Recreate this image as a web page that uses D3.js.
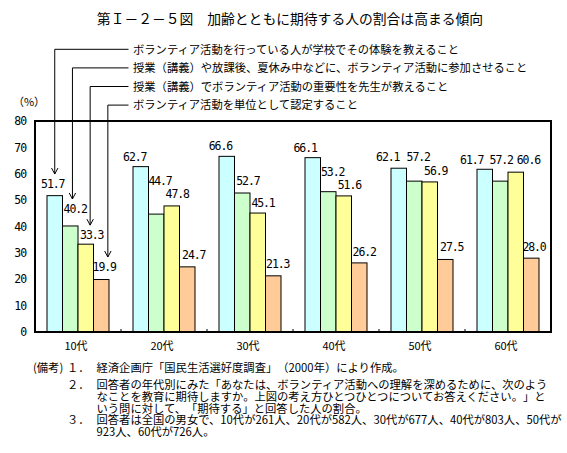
<!DOCTYPE html>
<html><head><meta charset="utf-8">
<script src="https://cdn.jsdelivr.net/npm/d3@7"></script>
<style>
body{margin:0;background:#fff;}
text{fill:#000; text-spacing-trim: space-all;}
</style></head>
<body>
<svg id="chart" width="567" height="453"></svg>
<script>
const categories = ["10代","20代","30代","40代","50代","60代"];
const seriesNames = [
  "ボランティア活動を行っている人が学校でその体験を教えること",
  "授業（講義）や放課後、夏休み中などに、ボランティア活動に参加させること",
  "授業（講義）でボランティア活動の重要性を先生が教えること",
  "ボランティア活動を単位として認定すること"
];
const seriesTeacherExperience = [51.7, 62.7, 66.6, 66.1, 62.1, 61.7];
const seriesParticipation     = [40.2, 44.7, 52.7, 53.2, 57.2, 57.2];
const seriesImportance        = [33.3, 47.8, 45.1, 51.6, 56.9, 60.6];
const seriesCredit            = [19.9, 24.7, 21.3, 26.2, 27.5, 28.0];
const yTicks = [0, 10, 20, 30, 40, 50, 60, 70, 80];
const colors = ["#CCFFFF", "#CCFFCC", "#FFFF99", "#FFCC99"];
const title = "第Ｉ－２－５図　加齢とともに期待する人の割合は高まる傾向";
// label nudges [dx, dy] relative to bar centre / bar top (layout only)
const labelNudge = [
  [[-2,-11.6],[-6,-10],[-6.3,-10],[-7.6,-9.4],[-11,-11],[-13,-9.3]],
  [[5,-17],[3.8,-33],[5.7,-12.2],[4.4,-20],[4,-24],[1,-21]],
  [[6,-9],[5.5,-11.9],[5.3,-10],[5.7,-11],[6,-11],[12.7,-12]],
  [[3,-12.5],[6.5,-12],[4.5,-12],[5,-10.6],[6.5,-12],[2.8,-11]]
];
const noteHeader = "(備考)";
const noteNumbers = ["１．", "２．", "３．"];
const noteNumberRows = [0, 1, 4];
const noteLines = [
  "経済企画庁「国民生活選好度調査」（2000年）により作成。",
  "回答者の年代別にみた「あなたは、ボランティア活動への理解を深めるために、次のよう",
  "なことを教育に期待しますか。上図の考え方ひとつひとつについてお答えください。」と",
  "いう問に対して、「期待する」と回答した人の割合。",
  "回答者は全国の男女で、10代が261人、20代が582人、30代が677人、40代が803人、50代が",
  "923人、60代が726人。"
];

const series = [seriesTeacherExperience, seriesParticipation, seriesImportance, seriesCredit];
const svg = d3.select("#chart");
const jp = "'Noto Sans CJK JP', 'Noto Sans', sans-serif";
const mono = "'DejaVu Sans Mono', monospace";

const plotLeft = 35, plotRight = 551, plotTop = 121, plotBottom = 332;
const x0 = d3.scaleBand().domain(categories).range([plotLeft, plotRight]).padding(0);
const x1 = d3.scaleBand().domain(d3.range(4)).range([0, x0.bandwidth()]).paddingInner(0).paddingOuter(0.774);
const y = d3.scaleLinear().domain([0, 80]).range([plotBottom, plotTop]);

// title
svg.append("text").attr("x", 290).attr("y", 24).attr("text-anchor", "middle")
  .style("font-family", jp).style("font-size", "13.8px").text(title);

// bars
const g = svg.append("g");
series.forEach((vals, j) => {
  g.selectAll(".b" + j).data(vals).join("rect").attr("class", "b" + j)
    .attr("x", (d, i) => x0(categories[i]) + x1(j))
    .attr("y", d => y(d))
    .attr("width", x1.bandwidth())
    .attr("height", d => y(0) - y(d))
    .attr("fill", colors[j]).attr("stroke", "#000").attr("stroke-width", 1);
});

// value labels
function labelPos(j, i) {
  const cx = x0(categories[i]) + x1(j) + x1.bandwidth() / 2 + labelNudge[j][i][0];
  const cy = y(series[j][i]) + labelNudge[j][i][1];
  return [cx, cy];
}
series.forEach((vals, j) => {
  g.selectAll(".l" + j).data(vals).join("text").attr("class", "l" + j)
    .attr("x", (d, i) => labelPos(j, i)[0])
    .attr("y", (d, i) => labelPos(j, i)[1] + 4)
    .attr("text-anchor", "middle")
    .style("font-family", mono).style("font-size", "11.5px").style("letter-spacing", "-1.1px")
    .text(d => d.toFixed(1));
});

// frame
svg.append("rect").attr("x", plotLeft).attr("y", plotTop).attr("width", plotRight - plotLeft).attr("height", plotBottom - plotTop)
  .attr("fill", "none").attr("stroke", "#000").attr("stroke-width", 2);

// y axis labels
const yAxis = d3.axisLeft(y).tickValues(yTicks).tickSize(0).tickPadding(9);
const ya = svg.append("g").attr("transform", `translate(${plotLeft},0)`).call(yAxis);
ya.select(".domain").remove();
ya.selectAll("text").style("font-family", mono).style("font-size", "11.5px").style("letter-spacing", "-1.1px");

// x axis
const xAxis = d3.axisBottom(x0).tickSize(0).tickPadding(10);
const xa = svg.append("g").attr("transform", `translate(0,${plotBottom})`).call(xAxis);
xa.select(".domain").remove();
xa.selectAll("text").style("font-family", jp).style("font-size", "11px").attr("dx", "-2px");
// inner ticks at group boundaries
svg.append("g").selectAll("line").data(categories.slice(1)).join("line")
  .attr("x1", d => x0(d)).attr("x2", d => x0(d))
  .attr("y1", plotBottom).attr("y2", plotBottom - 3).attr("stroke", "#000").attr("stroke-width", 1);

// (%)
svg.append("text").attr("x", 29).attr("y", 106).attr("text-anchor", "middle")
  .style("font-family", jp).style("font-size", "11px").text("（%）");

// legend with arrows into first group
const legTop = 49.3, legStep = 18.6, legLineEnd = 128.5;
seriesNames.forEach((name, j) => {
  const ax = x0(categories[0]) + x1(j) + x1.bandwidth() / 2 + 2.2 * j;
  const ly = legTop + legStep * j;
  const tip = labelPos(j, 0)[1] - 10;
  svg.append("path")
    .attr("d", `M${legLineEnd},${ly}H${ax}V${tip}`)
    .attr("fill", "none").attr("stroke", "#000").attr("stroke-width", 1);
  svg.append("path")
    .attr("d", `M${ax - 3.2},${tip - 6}L${ax},${tip}L${ax + 3.2},${tip - 6}`)
    .attr("fill", "none").attr("stroke", "#000").attr("stroke-width", 1);
  svg.append("text").attr("x", 133).attr("y", ly + 4.2)
    .style("font-family", jp).style("font-size", "11.3px").text(name);
});

// notes
const noteRowY = r => r === 0 ? 372.2 : 389.2 + (r - 1) * 11.65;
svg.append("text").attr("x", 33).attr("y", noteRowY(0))
  .style("font-family", jp).style("font-size", "11.3px").text(noteHeader);
const numText = svg.append("text").style("font-family", jp).style("font-size", "11.3px");
noteNumbers.forEach((n, k) => numText.append("tspan").attr("x", 67).attr("y", noteRowY(noteNumberRows[k])).text(n));
const bodyText = svg.append("text").style("font-family", jp).style("font-size", "11.3px");
noteLines.forEach((t, r) => bodyText.append("tspan").attr("x", 96.5).attr("y", noteRowY(r)).text(t));
</script>
</body></html>
